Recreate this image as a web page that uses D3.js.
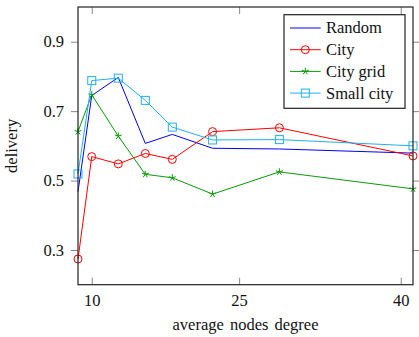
<!DOCTYPE html>
<html>
<head>
<meta charset="utf-8">
<script src="https://cdn.jsdelivr.net/npm/d3@7"></script>
<style>
  html, body { margin: 0; padding: 0; background: #fff; }
  svg { display: block; }
  svg text { font-family: "Liberation Serif", "DejaVu Serif", serif !important; fill: #111; }
</style>
</head>
<body>
<svg id="chart" width="419" height="337"></svg>
<script>
// Average node degree of each scenario run
const degrees = [8.6, 10, 12.7, 15.45, 18.2, 22.3, 29.1, 42.7];

// Delivery ratio per mobility model
const randomDelivery    = [0.468, 0.745, 0.797, 0.607, 0.633, 0.593, 0.591, 0.579];
const cityDelivery      = [0.274, 0.569, 0.548, 0.578, 0.561, 0.641, 0.652, 0.571];
const cityGridDelivery  = [0.641, 0.747, 0.628, 0.518, 0.508, 0.461, 0.525, 0.476];
const smallCityDelivery = [0.519, 0.788, 0.795, 0.731, 0.654, 0.617, 0.618, 0.600];

const seriesNames = ["Random", "City", "City grid", "Small city"];

// Axis ticks
const xTickValues = [10, 25, 41.45];
const xTickLabels = ["10", "25", "40"];
const yTickValues = [0.3, 0.5, 0.7, 0.9];
const yDomain = [0.2, 1.0];

const series = [
  { name: seriesNames[0], values: randomDelivery,    color: "#0000ff", marker: "none" },
  { name: seriesNames[1], values: cityDelivery,      color: "#ff0000", marker: "circle" },
  { name: seriesNames[2], values: cityGridDelivery,  color: "#0a9a0a", marker: "star" },
  { name: seriesNames[3], values: smallCityDelivery, color: "#1fb0f0", marker: "square" }
];

const W = 419, H = 337;
const margin = { top: 7, right: 6, bottom: 52.3, left: 78 };
const iw = W - margin.left - margin.right;
const ih = H - margin.top - margin.bottom;

const svg = d3.select("#chart");
const g = svg.append("g").attr("transform", `translate(${margin.left},${margin.top})`);

const x = d3.scaleLinear().domain(d3.extent(degrees)).range([0, iw]);
const y = d3.scaleLinear().domain(yDomain).range([ih, 0]);

const tickColor = "#888";
const fontSize = 16.5;
const serif = "Liberation Serif";

// x ticks point inward on bottom and top edges
const xAxisB = d3.axisBottom(x).tickValues(xTickValues)
  .tickFormat((d, i) => xTickLabels[i]).tickSizeInner(-7).tickSizeOuter(0).tickPadding(10);
const gxb = g.append("g").attr("transform", `translate(0,${ih})`).call(xAxisB);
const xAxisT = d3.axisTop(x).tickValues(xTickValues).tickFormat("").tickSizeInner(-7).tickSizeOuter(0);
const gxt = g.append("g").call(xAxisT);

// y ticks point outward on left and right edges
const yAxisL = d3.axisLeft(y).tickValues(yTickValues)
  .tickFormat(d3.format(".1f")).tickSizeInner(7).tickSizeOuter(0).tickPadding(7);
const gyl = g.append("g").call(yAxisL);
const yAxisR = d3.axisRight(y).tickValues(yTickValues).tickFormat("").tickSizeInner(7).tickSizeOuter(0);
const gyr = g.append("g").attr("transform", `translate(${iw},0)`).call(yAxisR);

[gxb, gxt, gyl, gyr].forEach(a => {
  a.attr("font-family", serif).attr("font-size", fontSize);
  a.select(".domain").remove();
  a.selectAll(".tick line").attr("stroke", tickColor).attr("stroke-width", 1);
  a.selectAll(".tick text").attr("fill", "#111");
});
gxb.selectAll(".tick text").attr("dy", "0.71em");

// clip the series to the plot area
svg.append("defs").append("clipPath").attr("id", "plotClip")
  .append("rect").attr("x", -6).attr("y", -6).attr("width", iw + 12).attr("height", ih + 12);

const line = d3.line().x((d, i) => x(degrees[i])).y(d => y(d));

function drawMarker(sel, type, color) {
  if (type === "circle") {
    sel.append("circle").attr("r", 4).attr("fill", "none").attr("stroke", color).attr("stroke-width", 1);
  } else if (type === "square") {
    sel.append("rect").attr("x", -4).attr("y", -4).attr("width", 8).attr("height", 8)
      .attr("fill", "none").attr("stroke", color).attr("stroke-width", 1);
  } else if (type === "star") {
    const r = 3.6;
    for (let k = 0; k < 5; k++) {
      const a = -Math.PI / 2 + k * 2 * Math.PI / 5;
      sel.append("line").attr("x1", 0).attr("y1", 0)
        .attr("x2", r * Math.cos(a)).attr("y2", r * Math.sin(a))
        .attr("stroke", color).attr("stroke-width", 1);
    }
  }
}

const plot = g.append("g").attr("clip-path", "url(#plotClip)");
series.forEach(s => {
  plot.append("path").datum(s.values).attr("d", line)
    .attr("fill", "none").attr("stroke", s.color).attr("stroke-width", 1);
  if (s.marker !== "none") {
    s.values.forEach((v, i) => {
      const m = plot.append("g").attr("transform", `translate(${x(degrees[i])},${y(v)})`);
      drawMarker(m, s.marker, s.color);
    });
  }
});

// frame
g.append("rect").attr("x", 0).attr("y", 0).attr("width", iw).attr("height", ih)
  .attr("fill", "none").attr("stroke", "#222").attr("stroke-width", 1.2);

// axis titles
g.append("text").attr("x", iw / 2).attr("y", ih + 45.5).attr("text-anchor", "middle")
  .attr("font-family", serif).attr("font-size", fontSize).style("word-spacing", "2px")
  .text("average nodes degree");
svg.append("text").attr("transform", `translate(17,${margin.top + ih / 2}) rotate(-90)`)
  .attr("text-anchor", "middle").attr("font-family", serif).attr("font-size", fontSize)
  .text("delivery");

// legend
const lg = svg.append("g").attr("transform", "translate(284,14.7)");
lg.append("rect").attr("width", 121).attr("height", 93.6)
  .attr("fill", "#fff").attr("stroke", "#222").attr("stroke-width", 1.2);
series.forEach((s, i) => {
  const cy = 13.3 + i * 21.7;
  lg.append("line").attr("x1", 6).attr("x2", 36.7).attr("y1", cy).attr("y2", cy)
    .attr("stroke", s.color).attr("stroke-width", 1);
  if (s.marker !== "none") {
    const m = lg.append("g").attr("transform", `translate(21.3,${cy})`);
    drawMarker(m, s.marker, s.color);
  }
  lg.append("text").attr("x", 42).attr("y", cy).attr("dy", "0.33em")
    .attr("font-family", serif).attr("font-size", fontSize).text(s.name);
});
</script>
</body>
</html>
